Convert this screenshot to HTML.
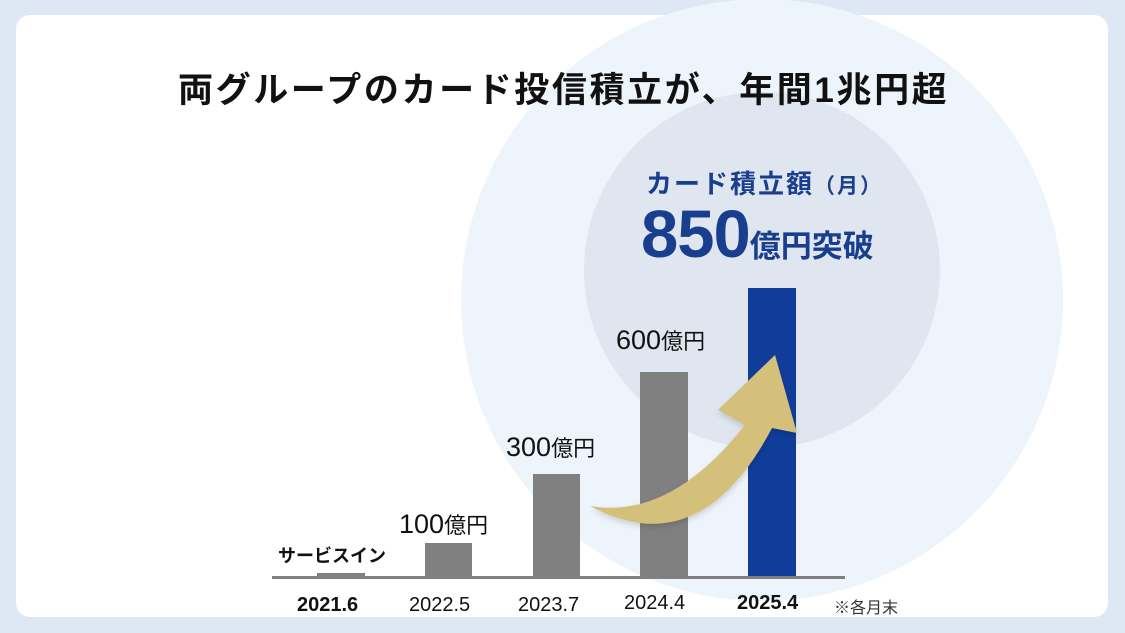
<!DOCTYPE html>
<html><head><meta charset="utf-8"><style>
html,body{margin:0;padding:0}
body{width:1125px;height:633px;background:#dde8f4;position:relative;overflow:hidden;font-family:"Liberation Sans","Noto Sans CJK JP",sans-serif}
.card{position:absolute;left:16px;top:15px;width:1092px;height:602px;background:#fff;border-radius:14px;overflow:hidden}
.t{position:absolute;white-space:nowrap}
</style></head><body>
<div class="card"></div>
<svg width="1125" height="633" style="position:absolute;left:0;top:0">
<defs><clipPath id="c"><rect x="16" y="0" width="1092" height="617" rx="14"/></clipPath>
<filter id="s"><feDropShadow dx="0" dy="3" stdDeviation="3" flood-opacity="0.15"/></filter></defs>
<g clip-path="url(#c)">
<circle cx="762" cy="300" r="301" fill="#eef4fb"/>
<circle cx="762" cy="270" r="178" fill="#dfe6f0"/>
</g>
<rect x="317" y="573" width="48" height="4" fill="#808080"/>
<rect x="425" y="543" width="47" height="34" fill="#808080"/>
<rect x="533" y="474" width="47" height="103" fill="#808080"/>
<rect x="640" y="372" width="48" height="205" fill="#808080"/>
<rect x="748" y="288" width="48" height="289" fill="#0f3d99"/>
<rect x="272" y="576" width="573" height="3" fill="#808080"/>
<path d="M590 506 Q670 520 745 425 L718 410 L775 355 L797 433 L772 428 Q700 565 590 506 Z" fill="#d4c07a" filter="url(#s)"/>
</svg>
<div class="t" style="left:178px;top:62px;font-size:35px;font-weight:bold;color:#111;letter-spacing:2.6px">両グループのカード投信積立が、年間1兆円超</div>
<div class="t" style="left:646px;top:164px;font-size:26px;font-weight:bold;color:#1a3e8e;letter-spacing:2px">カード積立額<span style="font-size:21px">（月）</span></div>
<div class="t" style="left:641px;top:196px;font-size:67px;font-weight:bold;color:#1a3e8e;letter-spacing:-1px">850<span style="font-size:31px;letter-spacing:0">億円突破</span></div>
<div class="t" style="left:616px;top:324px;font-size:27px;color:#111">600<span style="font-size:22px">億円</span></div>
<div class="t" style="left:506px;top:431px;font-size:27px;color:#111">300<span style="font-size:22px">億円</span></div>
<div class="t" style="left:399px;top:508px;font-size:27px;color:#111">100<span style="font-size:22px">億円</span></div>
<div class="t" style="left:278px;top:542px;font-size:18px;font-weight:bold;color:#111">サービスイン</div>
<div class="t" style="left:297px;top:594px;font-size:20px;font-weight:bold;color:#111">2021.6</div>
<div class="t" style="left:409px;top:594px;font-size:20px;color:#111">2022.5</div>
<div class="t" style="left:518px;top:594px;font-size:20px;color:#111">2023.7</div>
<div class="t" style="left:624px;top:592px;font-size:20px;color:#111">2024.4</div>
<div class="t" style="left:737px;top:592px;font-size:20px;font-weight:bold;color:#111">2025.4</div>
<div class="t" style="left:834px;top:594px;font-size:16px;color:#333">※各月末</div>
</body></html>
